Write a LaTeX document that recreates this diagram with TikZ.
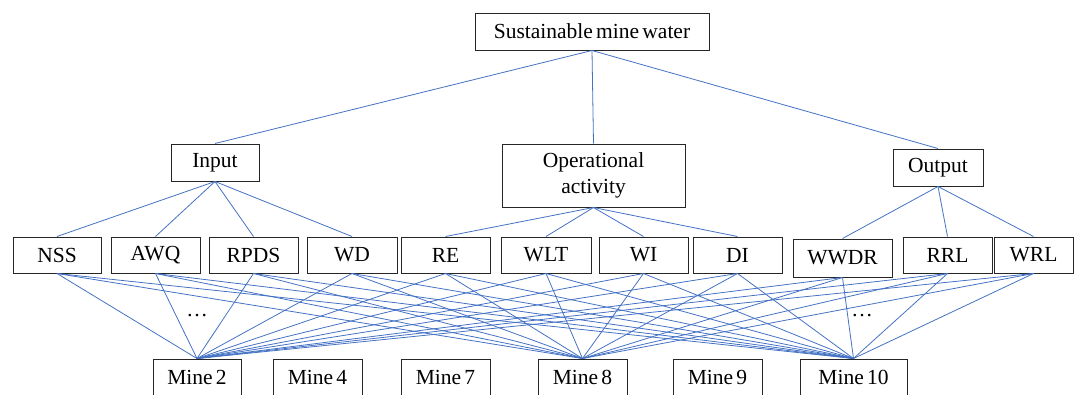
\documentclass[tikz,border=0pt]{standalone}
\usepackage{fontspec}
\setmainfont[WordSpace=0.6]{Liberation Serif}
\definecolor{linkblue}{RGB}{68,114,196}

\begin{document}
\begin{tikzpicture}[x=1pt,y=-1pt]
  \tikzstyle{every node}=[font=\fontsize{21.5}{26}\selectfont]
  \tikzstyle{box}=[draw=black!85, line width=1pt, inner sep=0pt, minimum height=37pt, align=center]
  \tikzstyle{link}=[draw=linkblue, line width=0.8pt]

  \useasboundingbox (0,0) rectangle (1074,394);

  \node[box, minimum width=234pt] (smw) at (592,31.5) {Sustainable mine water};

  \node[box, minimum width=88pt] (input) at (215,162.5) {Input};
  \node[box, minimum width=183pt, minimum height=63pt] (operational) at (593.5,175.5) {Operational\\activity};
  \node[box, minimum width=90pt] (output) at (938,167.5) {Output};

  \node[box, minimum width=88pt, minimum height=36pt] (nss) at (57,255) {NSS};
  \node[box, minimum width=89pt, minimum height=36pt] (awq) at (155.5,255) {AWQ};
  \node[box, minimum width=89pt, minimum height=36pt] (rpds) at (253.5,255) {RPDS};
  \node[box, minimum width=90pt, minimum height=36pt] (wd) at (352,255) {WD};
  \node[box, minimum width=89pt, minimum height=36pt] (re) at (445.5,255) {RE};
  \node[box, minimum width=90pt, minimum height=36pt] (wlt) at (546,255) {WLT};
  \node[box, minimum width=89pt, minimum height=36pt] (wi) at (643.5,255) {WI};
  \node[box, minimum width=89pt, minimum height=36pt] (di) at (737.5,255) {DI};
  \node[box, minimum width=99pt, minimum height=38pt] (wwdr) at (842.5,258) {WWDR};
  \node[box, minimum width=89pt, minimum height=36pt] (rrl) at (947.5,255) {RRL};
  \node[box, minimum width=79pt, minimum height=36pt] (wrl) at (1033.5,255) {WRL};

  \node[box, minimum width=88pt] (mine2) at (197,377.5) {Mine 2};
  \node[box, minimum width=89pt] (mine4) at (317.5,377.5) {Mine 4};
  \node[box, minimum width=89pt] (mine7) at (445.5,377.5) {Mine 7};
  \node[box, minimum width=89pt] (mine8) at (582.5,377.5) {Mine 8};
  \node[box, minimum width=89pt] (mine9) at (717.5,377.5) {Mine 9};
  \node[box, minimum width=107pt] (mine10) at (853.5,377.5) {Mine 10};

  \node (dotsleft) at (197,316) {…};
  \node (dotsright) at (862,316) {…};

  \foreach \x in {input,operational,output}
    \draw[link] (smw.south) -- (\x.north);
  \foreach \x in {nss,awq,rpds,wd}
    \draw[link] (input.south) -- (\x.north);
  \foreach \x in {re,wlt,wi,di}
    \draw[link] (operational.south) -- (\x.north);
  \foreach \x in {wwdr,rrl,wrl}
    \draw[link] (output.south) -- (\x.north);

  \foreach \x in {nss,awq,rpds,wd,re,wlt,wi,di,wwdr,rrl,wrl}
    \foreach \y in {mine2,mine8,mine10}
      \draw[link] (\x.south) -- (\y.north);

\end{tikzpicture}
\end{document}
